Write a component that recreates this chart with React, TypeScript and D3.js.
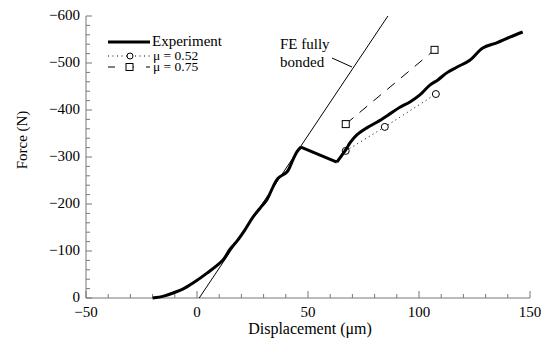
import React from "react";
import * as d3 from "d3";

const riseDisp = [-20, -15, -10.8, -6, -1.8, 4.5, 11.7, 14.9, 18.0, 21.6, 25.2, 28.4, 31.5, 34.2, 36.5, 40.5, 43.2, 45.0, 46.8];
const riseForce = [0, -4, -10.6, -20, -31.9, -53, -81, -104, -121, -145, -172, -191, -209, -236, -255, -268, -294, -311, -321];
const dropDisp = [46.8, 63.0];
const dropForce = [-321, -289];
const reloadDisp = [63.0, 65.3, 67.5, 68.9, 72.0, 76.5, 81.0, 86.0, 91.4, 95.9, 100.4, 104.9, 108.5, 112.5, 117.0, 122.9, 128.7, 135.0, 140.9, 146.7];
const reloadForce = [-289, -304, -319, -330, -347, -362, -374, -389, -406, -417, -432, -453, -464, -479, -491, -506, -532, -543, -555, -566];
const mu052Disp = [67, 84.6, 107.6];
const mu052Force = [-313, -364, -434];
const mu075Disp = [67, 107];
const mu075Force = [-370, -528];
const feDisp = [1, 86];
const feForce = [0, -600];
const xTicks = [-50, 0, 50, 100, 150];
const yTicks = [0, -100, -200, -300, -400, -500, -600];
const legendLabels = ["Experiment", "\u03bc = 0.52", "\u03bc = 0.75"];

const FONT = "Liberation Serif, DejaVu Serif, Times New Roman, serif";

export default function App() {
  const x = d3.scaleLinear().domain([-50, 150]).range([86, 530]);
  const y = d3.scaleLinear().domain([0, -600]).range([298, 16]);
  const line = d3.line<[number, number]>().x((d) => x(d[0])).y((d) => y(d[1]));
  const smooth = d3.line<[number, number]>().x((d) => x(d[0])).y((d) => y(d[1])).curve(d3.curveCatmullRom.alpha(0.5));
  const zip = (a: number[], b: number[]) => a.map((v, i) => [v, b[i]] as [number, number]);
  const rise = zip(riseDisp, riseForce);
  const drop = zip(dropDisp, dropForce);
  const reload = zip(reloadDisp, reloadForce);
  const m52 = zip(mu052Disp, mu052Force);
  const m75 = zip(mu075Disp, mu075Force);
  const fe = zip(feDisp, feForce);
  const axisColor = "#777";
  const fmt = (v: number) => (v < 0 ? "\u2212" + Math.abs(v) : String(v));
  const xMinor = d3.range(-50, 151, 10).filter((v) => !xTicks.includes(v));
  const yMinor = d3.range(0, -601, -20).filter((v) => !yTicks.includes(v));
  const expPath = (smooth(rise) || "") + (line(drop) || "") + (smooth(reload) || "");

  return (
    <svg width={545} height={345} style={{ position: "absolute", left: 0, top: 0, background: "#fff", fontFamily: FONT }}>
      <rect width={545} height={345} fill="#fff" />
      {/* axes */}
      <line x1={x(-50)} x2={x(150)} y1={y(0)} y2={y(0)} stroke={axisColor} strokeWidth={1} />
      <line x1={x(-50)} x2={x(-50)} y1={y(0)} y2={y(-600)} stroke={axisColor} strokeWidth={1} />
      {xTicks.map((t) => (
        <g key={"xt" + t}>
          <line x1={x(t)} x2={x(t)} y1={y(0)} y2={y(0) - 7} stroke={axisColor} />
          <text x={x(t)} y={y(0) + 19} textAnchor="middle" style={{ fontFamily: FONT }} fontSize={15} fill="#000">
            {fmt(t)}
          </text>
        </g>
      ))}
      {xMinor.map((t) => (
        <line key={"xm" + t} x1={x(t)} x2={x(t)} y1={y(0)} y2={y(0) - 4} stroke={axisColor} />
      ))}
      {yTicks.map((t) => (
        <g key={"yt" + t}>
          <line x1={x(-50)} x2={x(-50) + 6} y1={y(t)} y2={y(t)} stroke={axisColor} />
          <text x={80} y={y(t) + 4} textAnchor="end" style={{ fontFamily: FONT }} fontSize={15} fill="#000">
            {fmt(t)}
          </text>
        </g>
      ))}
      {yMinor.map((t) => (
        <line key={"ym" + t} x1={x(-50)} x2={x(-50) + 4} y1={y(t)} y2={y(t)} stroke={axisColor} />
      ))}
      <text x={310} y={334} textAnchor="middle" style={{ fontFamily: FONT }} fontSize={16} fill="#000">
        Displacement (μm)
      </text>
      <text transform="translate(27,140) rotate(-90)" textAnchor="middle" style={{ fontFamily: FONT }} fontSize={15} fill="#000">
        Force (N)
      </text>

      {/* FE fully bonded */}
      <path d={line(fe) || ""} fill="none" stroke="#000" strokeWidth={1} />
      <line x1={332} y1={58} x2={352} y2={67} stroke="#000" strokeWidth={1} />
      <text x={280} y={49} style={{ fontFamily: FONT }} fontSize={15} fill="#000">FE fully</text>
      <text x={280} y={67} style={{ fontFamily: FONT }} fontSize={15} fill="#000">bonded</text>

      {/* mu = 0.75 */}
      <path d={line(m75) || ""} fill="none" stroke="#000" strokeWidth={1} strokeDasharray="10,8" />
      {m75.map((p, i) => (
        <rect key={"s" + i} x={x(p[0]) - 3.5} y={y(p[1]) - 3.5} width={7} height={7} fill="#fff" stroke="#000" strokeWidth={1} />
      ))}
      {/* mu = 0.52 */}
      <path d={line(m52) || ""} fill="none" stroke="#000" strokeWidth={1} strokeDasharray="1,3.5" />
      {m52.map((p, i) => (
        <circle key={"c" + i} cx={x(p[0])} cy={y(p[1])} r={3.5} fill="#fff" stroke="#000" strokeWidth={1} />
      ))}
      {/* experiment */}
      <path d={expPath} fill="none" stroke="#000" strokeWidth={3} strokeLinejoin="miter" strokeLinecap="butt" />

      {/* legend */}
      <line x1={108} x2={150} y1={42} y2={42} stroke="#000" strokeWidth={3} />
      <text x={152} y={46} style={{ fontFamily: FONT }} fontSize={15} fill="#000">{legendLabels[0]}</text>
      <line x1={108} x2={150} y1={56} y2={56} stroke="#000" strokeWidth={1} strokeDasharray="1,3.5" />
      <circle cx={130} cy={56} r={3} fill="#fff" stroke="#000" strokeWidth={1} />
      <text x={153} y={59.5} style={{ fontFamily: FONT }} fontSize={13.5} fill="#000">{legendLabels[1]}</text>
      <line x1={108} x2={150} y1={67} y2={67} stroke="#000" strokeWidth={1} strokeDasharray="7,12" />
      <rect x={126} y={63.5} width={7} height={7} fill="#fff" stroke="#000" strokeWidth={1} />
      <text x={153} y={71} style={{ fontFamily: FONT }} fontSize={13.5} fill="#000">{legendLabels[2]}</text>
    </svg>
  );
}
